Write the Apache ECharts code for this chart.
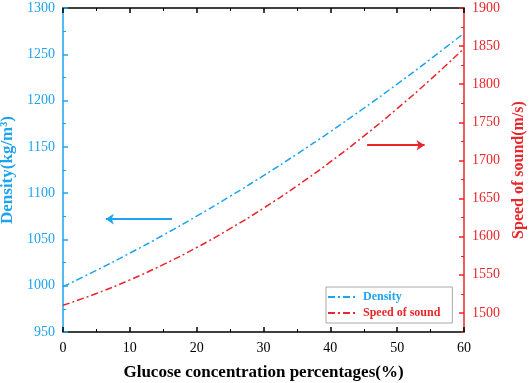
<!DOCTYPE html>
<html>
<head>
<meta charset="utf-8">
<script src="https://cdn.jsdelivr.net/npm/echarts@6/dist/echarts.min.js"></script>
<style>
  html, body { margin: 0; padding: 0; background: #fff; }
  #main { width: 529px; height: 383px; }
</style>
</head>
<body>
<div id="main"></div>
<script>
  // values
  var concentration = [0, 5, 10, 15, 20, 25, 30, 35, 40, 45, 50, 55, 60]
  var density = [999, 1016.6, 1035.2, 1054.7, 1075.2, 1096.6, 1118.9, 1142.2, 1166.4, 1191.7, 1217.8, 1244.9, 1272.8]
  var speed = [1510, 1525.5, 1543.3, 1563.4, 1585.8, 1610.5, 1637.4, 1666.6, 1698.1, 1731.9, 1768, 1806.3, 1847]

  // tick labels on the right axis
  var speedTicks = [1500, 1550, 1600, 1650, 1700, 1750, 1800, 1850, 1900]
  var speedMinorTicks = [1475, 1525, 1575, 1625, 1675, 1725, 1775, 1825, 1875]

  // arrow annotations (data units)
  var densityArrow = [[16.3, 1072], [6.4, 1072]]
  var speedArrow = [[45.5, 1720], [54.1, 1720]]

  var blue = '#1ea3ee'
  var red = '#e8262b'
  var font = 'Liberation Serif'

  var chart = echarts.init(document.getElementById('main'))

  var pairs = function(ys) {
    return concentration.map(function(x, i) { return [x, ys[i]] })
  }
  var plain = function(v) { return String(v) }
  var box = { left: 63, right: 65, top: 8, bottom: 51, outerBoundsMode: 'none', containLabel: false }

  var option = {
    animation: false,
    grid: [box, Object.assign({}, box)],
    legend: {
      orient: 'vertical',
      left: 326,
      top: 287,
      padding: [4, 12, 4, 1],
      itemGap: 4,
      itemWidth: 30,
      itemHeight: 12,
      borderColor: '#aaa',
      borderWidth: 1,
      backgroundColor: '#fff',
      itemStyle: { opacity: 0 },
      data: [
        { name: 'Density', textStyle: { color: blue } },
        { name: 'Speed of sound', textStyle: { color: red } }
      ],
      textStyle: { fontFamily: font, fontWeight: 'bold', fontSize: 12 }
    },
    xAxis: [
      {
        type: 'value',
        gridIndex: 0,
        min: 0,
        max: 60,
        interval: 10,
        name: 'Glucose concentration percentages(%)',
        nameLocation: 'middle',
        nameGap: 32,
        nameTextStyle: { color: '#000', fontFamily: font, fontWeight: 'bold', fontSize: 17 },
        axisLine: { lineStyle: { color: '#000', width: 1.5 } },
        axisTick: { inside: true, length: 5, lineStyle: { color: '#000', width: 1.5 } },
        minorTick: { show: true, splitNumber: 2, length: 3, lineStyle: { color: '#000' } },
        axisLabel: { color: '#000', fontFamily: font, fontSize: 14, margin: 9, formatter: plain },
        splitLine: { show: false }
      },
      {
        type: 'value',
        gridIndex: 0,
        position: 'top',
        min: 0,
        max: 60,
        interval: 10,
        axisLine: { lineStyle: { color: '#000', width: 1.5 } },
        axisTick: { inside: true, length: 5, lineStyle: { color: '#000', width: 1.5 } },
        minorTick: { show: true, splitNumber: 2, length: 3, lineStyle: { color: '#000' } },
        axisLabel: { show: false },
        splitLine: { show: false }
      },
      {
        type: 'value',
        gridIndex: 1,
        min: 0,
        max: 60,
        show: false
      }
    ],
    yAxis: [
      {
        type: 'value',
        gridIndex: 0,
        position: 'left',
        min: 950,
        max: 1300,
        interval: 50,
        name: 'Density(kg/m³)',
        nameLocation: 'middle',
        nameGap: 42,
        nameTextStyle: { color: blue, fontFamily: font, fontWeight: 'bold', fontSize: 17 },
        axisLine: { lineStyle: { color: blue, width: 1.5 } },
        axisTick: { inside: true, length: 5, lineStyle: { color: blue, width: 1.5 } },
        minorTick: { show: true, splitNumber: 2, length: 3, lineStyle: { color: blue } },
        axisLabel: { color: blue, fontFamily: font, fontSize: 14, margin: 8, formatter: plain },
        splitLine: { show: false }
      },
      {
        type: 'value',
        gridIndex: 0,
        position: 'right',
        min: 1475,
        max: 1900,
        name: 'Speed of sound(m/s)',
        nameLocation: 'middle',
        nameGap: 44,
        nameRotate: 90,
        nameTextStyle: { color: red, fontFamily: font, fontWeight: 'bold', fontSize: 16 },
        axisLine: { onZero: false, lineStyle: { color: red, width: 1.5 } },
        axisTick: { inside: true, length: 5, customValues: speedTicks, lineStyle: { color: red, width: 1.5 } },
        axisLabel: { color: red, fontFamily: font, fontSize: 14, margin: 8, customValues: speedTicks, formatter: plain },
        splitLine: { show: false }
      },
      {
        type: 'value',
        gridIndex: 1,
        position: 'right',
        min: 1475,
        max: 1900,
        axisLine: { show: false, onZero: false },
        axisTick: { inside: true, length: 3, customValues: speedMinorTicks, lineStyle: { color: red } },
        axisLabel: { show: false },
        splitLine: { show: false }
      }
    ],
    series: [
      {
        name: 'Density',
        type: 'line',
        xAxisIndex: 0,
        yAxisIndex: 0,
        data: pairs(density),
        smooth: true,
        symbol: 'none',
        color: blue,
        lineStyle: { color: blue, width: 1.5, type: [7, 3, 2, 3] },
        markLine: {
          silent: true,
          symbol: ['none', 'arrow'],
          symbolSize: 8,
          label: { show: false },
          lineStyle: { color: blue, type: 'solid', width: 2 },
          data: [[{ coord: densityArrow[0] }, { coord: densityArrow[1] }]]
        }
      },
      {
        name: 'Speed of sound',
        type: 'line',
        xAxisIndex: 0,
        yAxisIndex: 1,
        data: pairs(speed),
        smooth: true,
        symbol: 'none',
        color: red,
        lineStyle: { color: red, width: 1.5, type: [7, 3, 2, 3] },
        markLine: {
          silent: true,
          symbol: ['none', 'arrow'],
          symbolSize: 8,
          label: { show: false },
          lineStyle: { color: red, type: 'solid', width: 2 },
          data: [[{ coord: speedArrow[0] }, { coord: speedArrow[1] }]]
        }
      }
    ]
  }

  chart.setOption(option)
</script>
</body>
</html>
